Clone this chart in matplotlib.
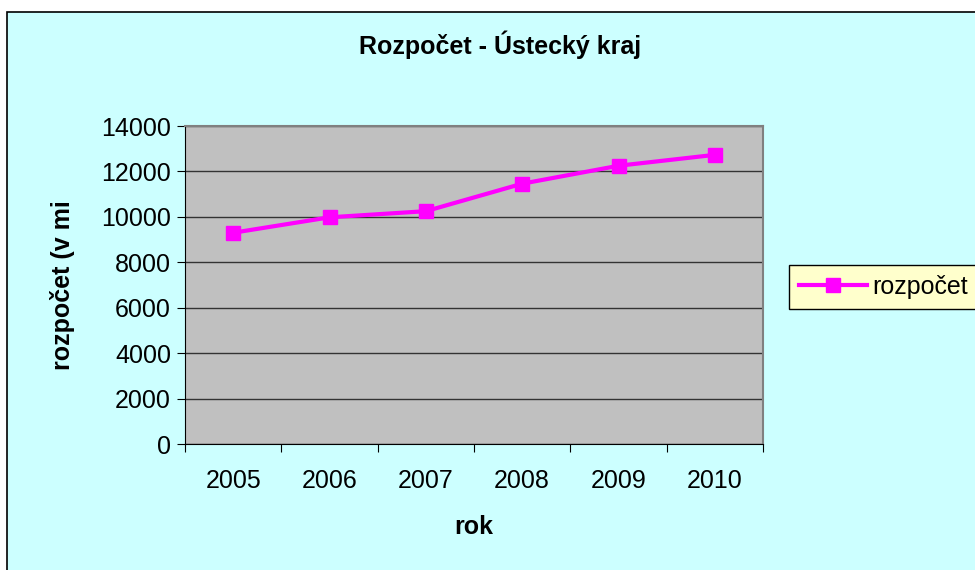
import numpy as np
import matplotlib.pyplot as plt
from matplotlib.patches import Rectangle

plt.rcParams.update({
    "font.family": ["Liberation Sans", "DejaVu Sans"],
})

# Data
years = ["2005", "2006", "2007", "2008", "2009", "2010"]
budget = [9300, 9980, 10250, 11460, 12250, 12730]
y_ticks = [0, 2000, 4000, 6000, 8000, 10000, 12000, 14000]

fig = plt.figure(figsize=(9.75, 5.7), dpi=100)
fig.patch.set_facecolor("white")

# Outer chart area (cyan) with black frame
fig.patches.append(Rectangle((7 / 975, -0.01), 1.0, 1 - 12 / 570 + 0.01,
                             transform=fig.transFigure, facecolor="#CCFFFF",
                             edgecolor="black", lw=1.2, zorder=-5))

ax = fig.add_axes([185 / 975, 1 - 444 / 570, 578 / 975, 318 / 570])
ax.set_facecolor("#C0C0C0")

x = np.arange(len(years))
ax.plot(x, budget, color="#FF00FF", lw=3, marker="s", markersize=10,
        label="rozpočet", zorder=3)

ax.set_xlim(-0.5, len(years) - 0.5)
ax.set_ylim(0, 14000)
ax.set_yticks(y_ticks)
ax.set_yticklabels([str(v) for v in y_ticks], fontsize=18)
ax.yaxis.grid(True, color="#333333", lw=1)
ax.set_axisbelow(True)

# Category ticks between years, labels centred
ax.set_xticks(np.arange(-0.5, len(years), 1.0))
ax.set_xticklabels([])
ax.set_xticks(x, minor=True)
ax.set_xticklabels(years, minor=True, fontsize=18)
ax.tick_params(axis="x", which="major", length=6, color="black")
ax.tick_params(axis="x", which="minor", length=0, pad=18)
ax.tick_params(axis="y", length=6, color="black", pad=4)

for side in ["top", "right"]:
    ax.spines[side].set_color("#808080")
    ax.spines[side].set_linewidth(1.5)
ax.spines["left"].set_color("black")
ax.spines["bottom"].set_color("black")

ax.set_xlabel("rok", fontsize=18, fontweight="bold", labelpad=16)
ax.set_ylabel("rozpočet (v mi", fontsize=18, fontweight="bold", labelpad=19)

fig.text(500 / 975, 1 - 45 / 570, "Rozpočet - Ústecký kraj", ha="center",
         va="center", fontsize=18, fontweight="bold")

leg = fig.legend(loc="upper left", bbox_to_anchor=(789 / 975, 1 - 265 / 570),
                 fontsize=18, frameon=True, fancybox=False, framealpha=1,
                 handlelength=2.7, handletextpad=0.25, borderpad=0.4,
                 borderaxespad=0)
leg.get_frame().set_facecolor("#FFFFCC")
leg.get_frame().set_edgecolor("black")

fig.savefig("out.png", dpi=100)
